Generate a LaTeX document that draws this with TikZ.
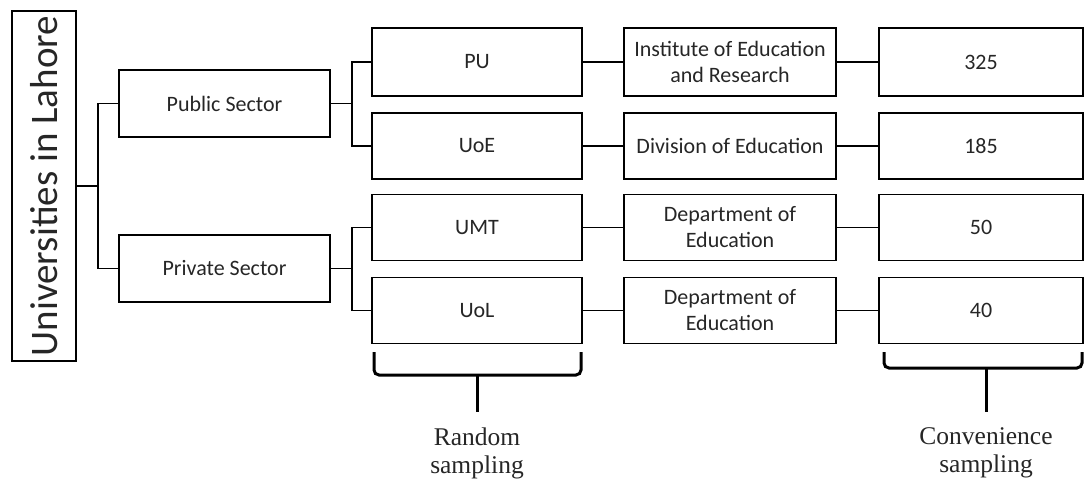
\documentclass[tikz,border=0pt]{standalone}
\usepackage{fontspec}
\setmainfont{Carlito}
\newfontfamily\serifnote{Liberation Serif}
\begin{document}
\begin{tikzpicture}[x=1pt,y=-1pt,
  box/.style={draw=black,line width=1.5pt,rectangle,inner sep=0pt,align=center,
    font=\fontsize{22}{26}\selectfont,text=black!85},
  wire/.style={draw=black,line width=1.5pt},
  bracebar/.style={draw=black,line width=3pt,rounded corners=5pt},
  note/.style={font=\serifnote\fontsize{25.5}{28}\selectfont,align=center,text=black!85}]
\useasboundingbox (0,0) rectangle (1084,482);
% title
\node[box,minimum width=64,minimum height=350,font=\fontsize{39}{42}\selectfont] (title) at (44,186) {\rotatebox{90}{Universities in Lahore}};
% sectors
\node[box,minimum width=211,minimum height=67] (pub) at (224.5,103.5) {Public Sector};
\node[box,minimum width=211,minimum height=67] (priv) at (224.5,268.5) {Private Sector};
% universities
\node[box,minimum width=210,minimum height=68] (pu) at (477,62) {PU};
\node[box,minimum width=210,minimum height=66] (uoe) at (477,146) {UoE};
\node[box,minimum width=210,minimum height=66] (umt) at (477,227.5) {UMT};
\node[box,minimum width=210,minimum height=66] (uol) at (477,310.5) {UoL};
% departments
\node[box,minimum width=212,minimum height=68] (ier) at (730,62) {Institute of Education\\and Research};
\node[box,minimum width=212,minimum height=66] (doe) at (730,146) {Division of Education};
\node[box,minimum width=212,minimum height=66] (dep1) at (730,227.5) {Department of\\Education};
\node[box,minimum width=212,minimum height=66] (dep2) at (730,310.5) {Department of\\Education};
% numbers
\node[box,minimum width=204,minimum height=68] (n325) at (981,62) {325};
\node[box,minimum width=204,minimum height=66] (n185) at (981,146) {185};
\node[box,minimum width=204,minimum height=66] (n50) at (981,227.5) {50};
\node[box,minimum width=204,minimum height=66] (n40) at (981,310.5) {40};
% connectors
\draw[wire] (title.east) -- ++(21,0) coordinate (tj) |- (pub.west);
\draw[wire] (tj) |- (priv.west);
\draw[wire] (pub.east) -- ++(21,0) coordinate (pj) |- (pu.west);
\draw[wire] (pj) |- (uoe.west);
\draw[wire] (priv.east) -- ++(21,0) coordinate (qj) |- (umt.west);
\draw[wire] (qj) |- (uol.west);
\draw[wire] (pu) -- (ier);
\draw[wire] (uoe) -- (doe);
\draw[wire] (umt) -- (dep1);
\draw[wire] (uol) -- (dep2);
\draw[wire] (ier) -- (n325);
\draw[wire] (doe) -- (n185);
\draw[wire] (dep1) -- (n50);
\draw[wire] (dep2) -- (n40);
% braces
\draw[bracebar] (374,352) -- (374,375) -- (581,375) -- (581,352);
\draw[line width=3pt] (477,375) -- (477,412);
\draw[bracebar] (884,352) -- (884,368) -- (1082,368) -- (1082,352);
\draw[line width=3pt] (986,368) -- (986,412);
% notes
\node[note] (rnd) at (477,453) {Random\\sampling};
\node[note] (conv) at (986,453) {Convenience\\sampling};
\end{tikzpicture}
\end{document}
